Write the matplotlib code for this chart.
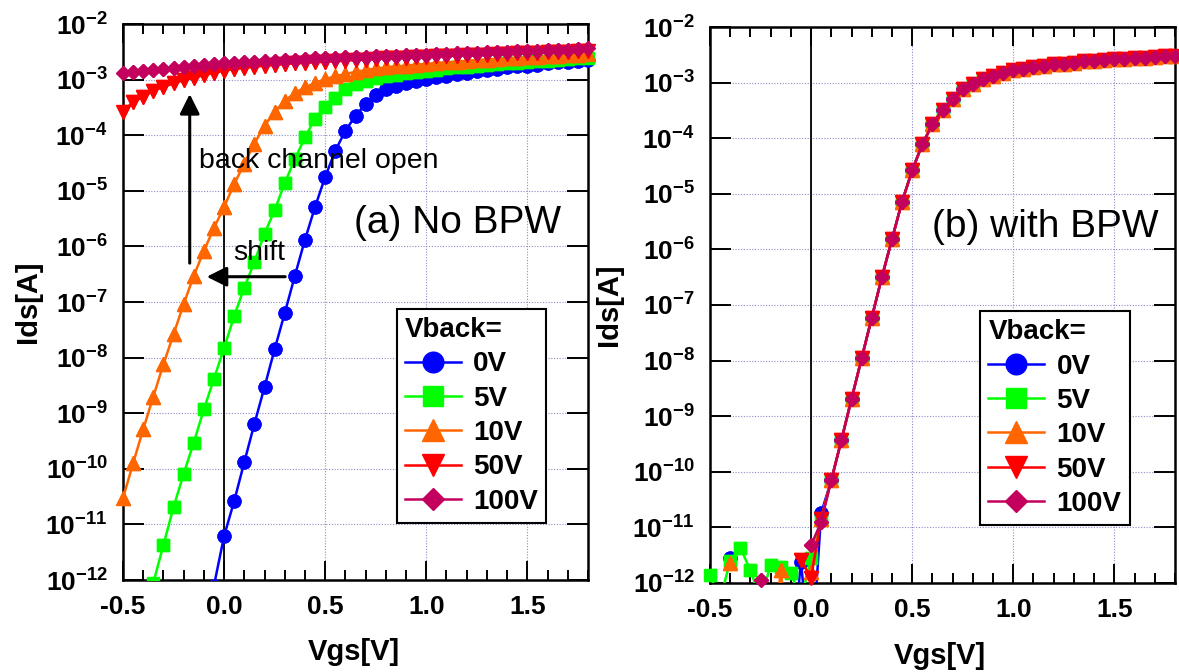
import numpy as np
import matplotlib
matplotlib.use("Agg")
import matplotlib.pyplot as plt
from matplotlib.ticker import MultipleLocator, FixedLocator, FixedFormatter, NullLocator

plt.rcParams['font.family'] = ['Liberation Sans', 'DejaVu Sans']
plt.rcParams['mathtext.fontset'] = 'custom'
plt.rcParams['mathtext.rm'] = 'Liberation Sans:bold'
plt.rcParams['mathtext.it'] = 'Liberation Sans:bold'
plt.rcParams['mathtext.bf'] = 'Liberation Sans:bold'
plt.rcParams['axes.unicode_minus'] = False

# ---------------- data ----------------
vgs = np.round(np.arange(-0.5, 1.8001, 0.05), 2)   # Vgs grid [V], 47 points
nan = np.nan

series_labels = ["0V", "5V", "10V", "50V", "100V"]
series_colors = ["#0000ff", "#00ff00", "#ff6600", "#ff0000", "#c4005e"]
series_markers = ["o", "s", "^", "v", "D"]

# (a) No BPW : log10(Ids[A]); nan = below plotted range / not measured
log_a_0v = [nan, nan, nan, nan, nan, nan, nan, nan, nan, -12.10,
            -11.21, -10.58, -9.88, -9.19, -8.53, -7.85, -7.20, -6.53, -5.88, -5.29,
            -4.75, -4.28, -3.92, -3.65, -3.44, -3.28, -3.17, -3.11, -3.07, -3.03,
            -2.99, -2.96, -2.93, -2.90, -2.88, -2.85, -2.83, -2.81, -2.78, -2.76,
            -2.75, -2.73, -2.71, -2.69, -2.68, -2.66, -2.65]
log_a_5v = [nan, nan, nan, -12.05, -11.37, -10.69, -10.09, -9.53, -8.93, -8.38,
            -7.83, -7.25, -6.74, -6.28, -5.77, -5.35, -4.86, -4.43, -4.04, -3.70,
            -3.50, -3.33, -3.17, -3.08, -3.02, -2.98, -2.94, -2.91, -2.88, -2.86,
            -2.84, -2.82, -2.80, -2.78, -2.77, -2.75, -2.74, -2.72, -2.71, -2.70,
            -2.68, -2.67, -2.66, -2.65, -2.63, -2.62, -2.61]
log_a_10v = [-10.53, -9.90, -9.29, -8.70, -8.12, -7.58, -7.04, -6.53, -6.08, -5.67,
             -5.29, -4.88, -4.51, -4.15, -3.83, -3.58, -3.38, -3.24, -3.14, -3.06,
             -2.99, -2.94, -2.90, -2.86, -2.83, -2.80, -2.78, -2.76, -2.75, -2.73,
             -2.72, -2.70, -2.69, -2.68, -2.66, -2.65, -2.64, -2.63, -2.62, -2.61,
             -2.60, -2.59, -2.58, -2.57, -2.56, -2.55, -2.54]
log_a_50v = [-3.58, -3.40, -3.31, -3.20, -3.13, -3.07, -3.01, -2.97, -2.92, -2.88,
             -2.84, -2.81, -2.79, -2.77, -2.75, -2.74, -2.72, -2.71, -2.70, -2.69,
             -2.68, -2.67, -2.66, -2.65, -2.64, -2.63, -2.62, -2.61, -2.61, -2.60,
             -2.59, -2.58, -2.58, -2.57, -2.56, -2.56, -2.55, -2.54, -2.54, -2.53,
             -2.52, -2.52, -2.51, -2.50, -2.50, -2.49, -2.49]
log_a_100v = [-2.89, -2.87, -2.85, -2.83, -2.81, -2.79, -2.77, -2.76, -2.74, -2.72,
              -2.71, -2.70, -2.69, -2.68, -2.67, -2.66, -2.65, -2.64, -2.63, -2.62,
              -2.62, -2.61, -2.60, -2.60, -2.59, -2.58, -2.58, -2.57, -2.56, -2.56,
              -2.55, -2.54, -2.54, -2.53, -2.52, -2.52, -2.51, -2.50, -2.50, -2.49,
              -2.48, -2.48, -2.47, -2.46, -2.46, -2.45, -2.44]

# (b) with BPW : noise floor part (Vgs -0.5 .. 0.05), then common curve (0.10 .. 1.8)
log_b_noise_0v = [nan, nan, -11.55, nan, nan, nan, nan, nan, -13.5, -11.62, -13.5, -10.74]
log_b_noise_5v = [-11.86, -12.3, -11.60, -11.37, -11.77, -12.3, -11.68, -11.71, -11.82, -12.3, -11.55, -10.84]
log_b_noise_10v = [nan, nan, -11.64, nan, nan, nan, -13.5, -11.77, -13.5, nan, -11.80, -10.84]
log_b_noise_50v = [nan, nan, nan, nan, nan, nan, nan, nan, nan, -11.59, -11.91, -10.84]
log_b_noise_100v = [nan, nan, nan, nan, nan, -11.95, nan, nan, nan, nan, -11.32, -10.90]
log_b_on = [-10.15, -9.43, -8.69, -7.96, -7.23, -6.50, -5.82, -5.14, -4.58, -4.11,
            -3.75, -3.49, -3.30, -3.12, -3.02, -2.94, -2.88, -2.82, -2.78, -2.75,
            -2.72, -2.70, -2.67, -2.66, -2.64, -2.62, -2.61, -2.59, -2.58, -2.57,
            -2.56, -2.55, -2.54, -2.53, -2.52]

log_a = [log_a_0v, log_a_5v, log_a_10v, log_a_50v, log_a_100v]
log_b = [list(n) + list(log_b_on) for n in
         [log_b_noise_0v, log_b_noise_5v, log_b_noise_10v, log_b_noise_50v, log_b_noise_100v]]
for s in log_a + log_b:
    assert len(s) == len(vgs)

ytick_exponents = list(range(-12, -1))
YMIN, YMAX = 1e-12, 1e-2

# ---------------- figure ----------------
W, H = 1179, 672
fig = plt.figure(figsize=(W / 100, H / 100), dpi=100)
axA = fig.add_axes([123 / W, 1 - 580 / H, 465 / W, 556 / H])
axB = fig.add_axes([710 / W, 1 - 583 / H, 465 / W, 556 / H])

FAM = ['Liberation Sans', 'DejaVu Sans']
lab_font = dict(family=FAM, weight='bold', size=21)


def style_axes(ax):
    ax.set_yscale('log')
    ax.set_xlim(-0.5, 1.8)
    ax.set_ylim(YMIN, YMAX)
    ax.xaxis.set_major_locator(MultipleLocator(0.5))
    ax.xaxis.set_minor_locator(MultipleLocator(0.1))
    ax.yaxis.set_major_locator(FixedLocator([10.0 ** e for e in ytick_exponents]))
    ax.yaxis.set_major_formatter(FixedFormatter([r'$\mathregular{10^{%d}}$' % e for e in ytick_exponents]))
    ax.yaxis.set_minor_locator(NullLocator())
    ax.grid(True, which='major', color='#8c8cc8', linestyle=(0, (1, 1.5)), linewidth=0.8)
    ax.set_axisbelow(True)
    ax.axvline(0.0, color='black', lw=1.3, zorder=1)
    ax.tick_params(which='both', direction='in', top=True, right=True, width=1.4, labelsize=19)
    ax.tick_params(axis='x', which='major', length=14, pad=11)
    ax.tick_params(axis='x', which='minor', length=7)
    ax.tick_params(axis='y', which='major', length=15, pad=11)
    for lbl in ax.get_xticklabels() + ax.get_yticklabels():
        lbl.set_fontweight('bold')
        lbl.set_family(FAM)
    for sp in ax.spines.values():
        sp.set_linewidth(1.8)
    ax.set_xlabel('Vgs[V]', fontdict=lab_font)
    ax.set_ylabel('Ids[A]', fontdict=lab_font)


def draw_series(ax, logs):
    handles = []
    for lg, c, m, lab in zip(logs, series_colors, series_markers, series_labels):
        y = 10.0 ** np.array(lg, dtype=float)
        ms = 7.2 if m == 'D' else (10 if m in ('^', 'v') else 9.3)
        h, = ax.plot(vgs, y, color=c, marker=m, ms=ms, lw=1.8, mec=c, label=lab, zorder=3)
        inside = (y >= YMIN) & (y <= YMAX)
        ax.plot(vgs[inside], y[inside], ls='none', color=c, marker=m, ms=ms, mec=c,
                clip_on=False, zorder=3)
        handles.append(h)
    return handles


def add_legend(ax, handles, x0, y0):
    leg = ax.legend(handles=handles, title='Vback=', loc='lower left',
                    bbox_to_anchor=(x0, y0), borderaxespad=0, frameon=True,
                    fancybox=False, edgecolor='black', framealpha=1,
                    prop=dict(family=FAM, weight='bold', size=20),
                    title_fontproperties=dict(family=FAM, weight='bold', size=20),
                    markerscale=1.6, handlelength=2.0, handletextpad=0.45,
                    labelspacing=0.3, borderpad=0.3, alignment='left')
    leg.get_frame().set_linewidth(1.5)
    leg.set_zorder(5)


for ax in (axA, axB):
    style_axes(ax)

hA = draw_series(axA, log_a)
hB = draw_series(axB, log_b)
add_legend(axA, hA, 0.589, 0.1025)
add_legend(axB, hB, 0.581, 0.104)

axA.yaxis.set_label_coords(-0.174, 0.5)
axB.yaxis.set_label_coords(-0.187, 0.5)
axA.xaxis.set_label_coords(0.497, -0.104)
axB.xaxis.set_label_coords(0.495, -0.106)

axA.text(0.644, 1.74e-6, '(a) No BPW', fontsize=28, family=FAM, va='baseline', ha='left', zorder=4)
axB.text(0.60, 1.66e-6, '(b) with BPW', fontsize=28, family=FAM, va='baseline', ha='left', zorder=4)
axA.text(-0.124, 2.6e-5, 'back channel open', fontsize=20.5, family=FAM, va='baseline', ha='left', zorder=4)
axA.text(0.045, 5.7e-7, 'shift', fontsize=20.5, family=FAM, va='baseline', ha='left', zorder=4)

arrow_kw = dict(arrowstyle='-|>,head_width=0.3,head_length=0.6', color='black', lw=2.2,
                mutation_scale=20, shrinkA=0, shrinkB=0)
axA.annotate('', xy=(-0.17, 5.5e-4), xytext=(-0.17, 5.0e-7), arrowprops=arrow_kw, zorder=4)
axA.annotate('', xy=(-0.086, 2.85e-7), xytext=(0.302, 2.85e-7), arrowprops=arrow_kw, zorder=4)

fig.savefig('out.png', dpi=100, facecolor='white')
